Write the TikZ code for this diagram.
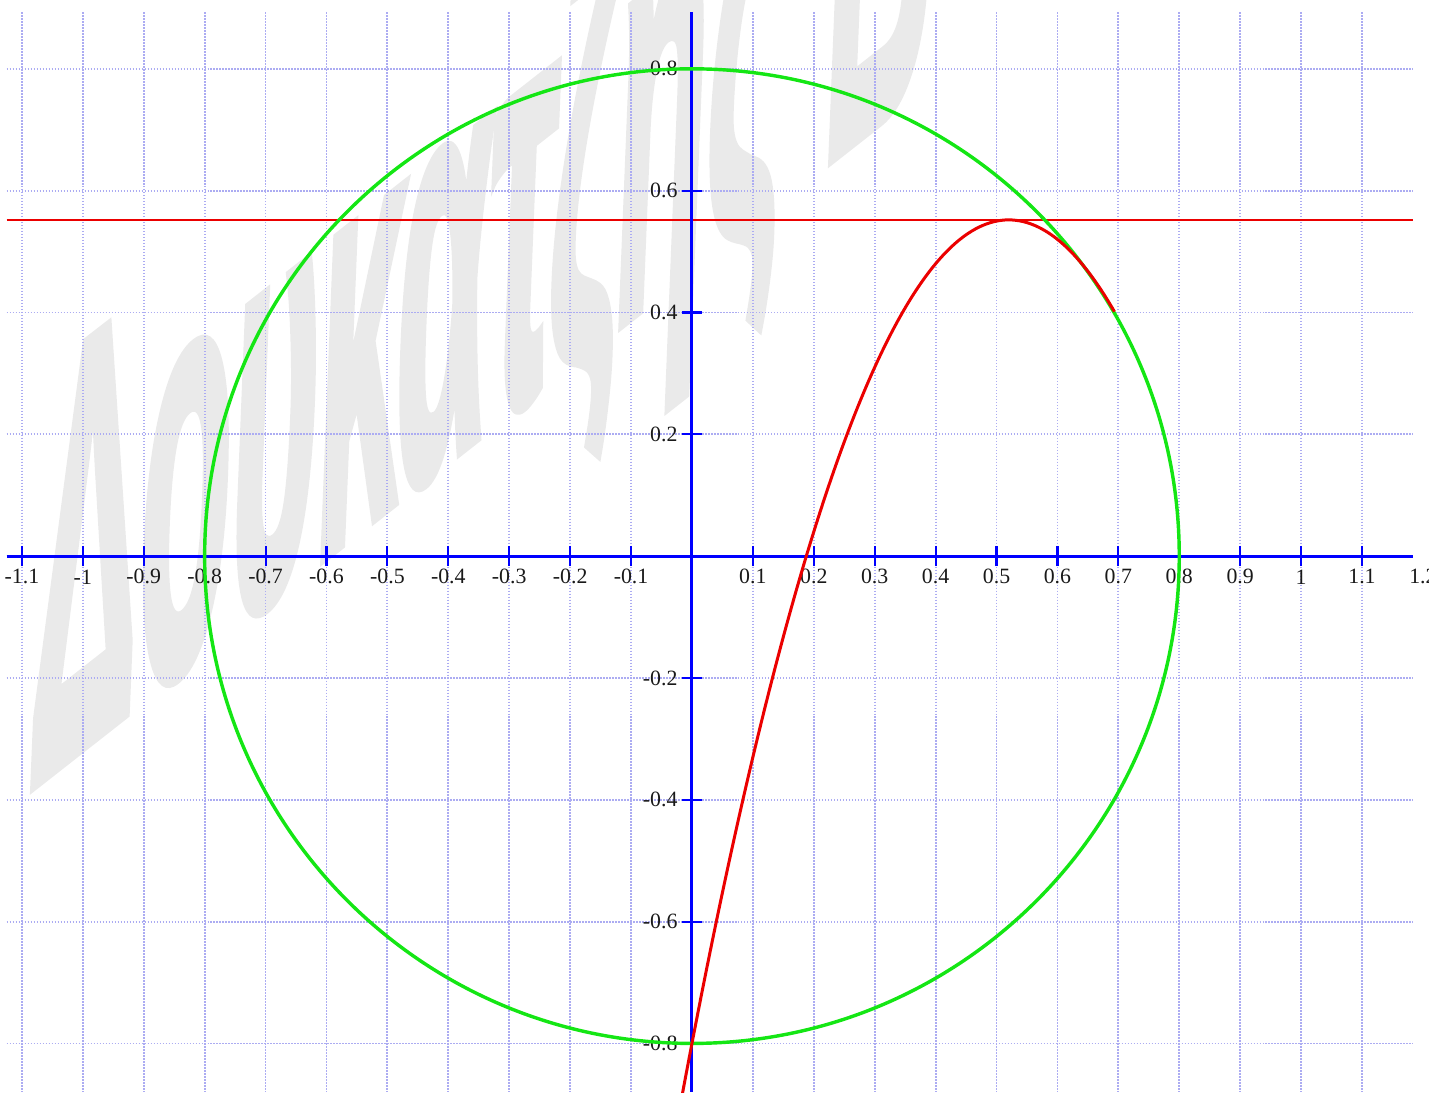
\documentclass[tikz,border=0pt]{standalone}
\usepackage{fontspec}
\setmainfont{Liberation Serif}
\newfontfamily\wmfont{Liberation Sans}[UprightFont={* Bold}, FakeBold=3]
\usepackage{xcolor}
\definecolor{gridblue}{RGB}{172,172,242}
\definecolor{axisblue}{RGB}{0,0,255}
\definecolor{circgreen}{RGB}{20,230,20}
\definecolor{curvered}{RGB}{235,0,0}
\definecolor{wmgray}{RGB}{234,234,234}

\begin{document}
\begin{tikzpicture}[
  x=10cm, y=10cm,
  font=\fontsize{10.2}{12}\selectfont,
  gridline/.style={gridblue, line width=0.85pt, dash pattern=on 0.7pt off 0.7pt},
  axisline/.style={axisblue, line width=1.4pt},
  tickmark/.style={axisblue, line width=1pt},
  ticklabel/.style={inner sep=0pt, text=black!90},
  circline/.style={circgreen, line width=1.6pt},
  curveline/.style={curvered, line width=1.4pt},
  levelline/.style={curvered, line width=0.9pt}
]
\clip (-1.136,-0.880) rectangle (1.210,0.913);

% watermark
\begin{scope}[cm={3.49,2.74,0.56,13.9,(-1.095,-0.384)}]
  \node[transform shape, anchor=base west, inner sep=0pt, text=wmgray,
        font=\wmfont\fontsize{20}{24}\selectfont] (mark) at (0,0) {Δουκατζης Β};
\end{scope}

% grid
\foreach \i in {-11,...,11}
  \draw[gridline] ({\i/10},0.893) -- ({\i/10},-0.88);
\foreach \j in {-4,...,4}
  \draw[gridline] (-1.125,{\j/5}) -- (1.183,{\j/5});

% level y = 0.552
\draw[levelline] (-1.125,0.552) -- (1.183,0.552);

% axes
\draw[axisline] (-1.125,0) -- (1.183,0);
\draw[axisline] (0,0.893) -- (0,-0.88);

\foreach \t [count=\k] in {-1.1,-1,-0.9,-0.8,-0.7,-0.6,-0.5,-0.4,-0.3,-0.2,-0.1,0.1,0.2,0.3,0.4,0.5,0.6,0.7,0.8,0.9,1,1.1} {
  \draw[tickmark] (\t,-0.0164) -- (\t,0.0164);
  \node[ticklabel] (xl\k) at (\t,-0.034) {\t};
}
\node[ticklabel] (xlend) at (1.2,-0.034) {1.2};

\foreach \t [count=\k] in {-0.8,-0.6,-0.4,-0.2,0.2,0.4,0.6,0.8} {
  \draw[tickmark] (-0.0164,\t) -- (0.0164,\t);
  \node[ticklabel, anchor=east] (yl\k) at (-0.023,\t) {\t};
}

% circle and parabola
\draw[circline] (0,0) circle (0.8);
\draw[curveline] plot[domain=-0.02:0.695, samples=120, smooth] (\x,{-5*\x*\x+5.2*\x-0.8});

\end{tikzpicture}
\end{document}
